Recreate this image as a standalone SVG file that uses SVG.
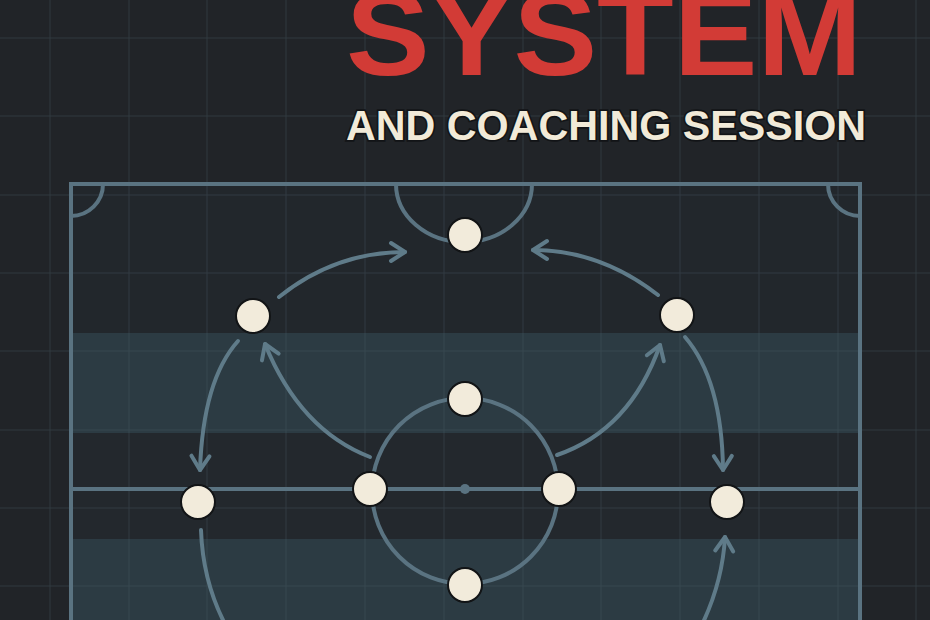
<svg xmlns="http://www.w3.org/2000/svg" width="930" height="620" viewBox="0 0 930 620">
  <defs>
    <style>
      .grid { stroke: #4a5c66; stroke-width: 1; opacity: 0.38; }
      .pitch { fill: none; stroke: #5a7381; stroke-width: 4; }
      .conn { fill: none; stroke: #5f7b89; stroke-width: 4; stroke-linecap: round; }
      .node { fill: #f2ebdb; stroke: #121416; stroke-width: 2; }
      .title { font-family: "Liberation Sans", Arial, sans-serif; font-weight: bold; fill: #d23b36; }
      .sub { font-family: "Liberation Sans", Arial, sans-serif; font-weight: bold; fill: #f1ead8; stroke: #121417; stroke-width: 3.5; paint-order: stroke; }
    </style>
    <marker id="arrow" markerUnits="userSpaceOnUse" viewBox="0 0 22 24" refX="18" refY="12" markerWidth="22" markerHeight="24" orient="auto">
      <path d="M4,3 L18,12 L4,21" fill="none" stroke="#5f7b89" stroke-width="4" stroke-linecap="round" stroke-linejoin="round"/>
    </marker>
  </defs>

  <!-- background -->
  <rect x="0" y="0" width="930" height="620" fill="#212428"/>

  <!-- pitch bands -->
  <g id="bands">
    <rect x="71" y="184" width="789" height="149" fill="#22272c"/>
    <rect x="71" y="333" width="789" height="100" fill="#2c3b43"/>
    <rect x="71" y="433" width="789" height="106" fill="#23282d"/>
    <rect x="71" y="539" width="789" height="81" fill="#2c3b43"/>
  </g>

  <!-- grid -->
  <g id="grid" class="grid">
    <line x1="50" y1="0" x2="50" y2="620"/>
    <line x1="129" y1="0" x2="129" y2="620"/>
    <line x1="207" y1="0" x2="207" y2="620"/>
    <line x1="286" y1="0" x2="286" y2="620"/>
    <line x1="365" y1="0" x2="365" y2="620"/>
    <line x1="444" y1="0" x2="444" y2="620"/>
    <line x1="523" y1="0" x2="523" y2="620"/>
    <line x1="601" y1="0" x2="601" y2="620"/>
    <line x1="680" y1="0" x2="680" y2="620"/>
    <line x1="759" y1="0" x2="759" y2="620"/>
    <line x1="838" y1="0" x2="838" y2="620"/>
    <line x1="916" y1="0" x2="916" y2="620"/>
    <line x1="0" y1="38" x2="930" y2="38"/>
    <line x1="0" y1="116" x2="930" y2="116"/>
    <line x1="0" y1="195" x2="930" y2="195"/>
    <line x1="0" y1="273" x2="930" y2="273"/>
    <line x1="0" y1="351" x2="930" y2="351"/>
    <line x1="0" y1="430" x2="930" y2="430"/>
    <line x1="0" y1="508" x2="930" y2="508"/>
    <line x1="0" y1="586" x2="930" y2="586"/>
  </g>

  <!-- title -->
  <g id="title">
    <text class="title" x="346" y="75" font-size="118" textLength="516" lengthAdjust="spacingAndGlyphs">SYSTEM</text>
    <text class="sub" x="346" y="140" font-size="42" textLength="520" lengthAdjust="spacingAndGlyphs">AND COACHING SESSION</text>
  </g>

  <!-- pitch markings -->
  <g id="pitch" class="pitch">
    <rect x="71" y="184" width="789" height="520"/>
    <path d="M103,184 A32,32 0 0 1 71,216"/>
    <path d="M828,184 A32,32 0 0 0 860,216"/>
    <path d="M396,184 A68,58 0 0 0 532,184"/>
    <line x1="71" y1="489" x2="860" y2="489"/>
    <circle cx="465" cy="491" r="93"/>
    <circle cx="465" cy="489" r="5" fill="#5a7381" stroke="none"/>
  </g>

  <!-- connectors -->
  <g id="connectors">
    <path class="conn" d="M279,297 Q335,252 405,252" marker-end="url(#arrow)"/>
    <path class="conn" d="M658,295 Q600,250 533,250" marker-end="url(#arrow)"/>
    <path class="conn" d="M238,341 Q203,380 200,470" marker-end="url(#arrow)"/>
    <path class="conn" d="M370,457 Q300,430 265,344" marker-end="url(#arrow)"/>
    <path class="conn" d="M557,455 Q630,430 660,345" marker-end="url(#arrow)"/>
    <path class="conn" d="M685,337 Q722,380 723,470" marker-end="url(#arrow)"/>
    <path class="conn" d="M201,530 Q203,590 234,640"/>
    <path class="conn" d="M694,640 Q722,590 725,537" marker-end="url(#arrow)"/>
  </g>

  <!-- nodes -->
  <g id="node-gk"><circle class="node" cx="465" cy="235" r="17"/></g>
  <g id="node-left-top"><circle class="node" cx="253" cy="316" r="17"/></g>
  <g id="node-right-top"><circle class="node" cx="677" cy="315" r="17"/></g>
  <g id="node-center-top"><circle class="node" cx="465" cy="399" r="17"/></g>
  <g id="node-left-mid"><circle class="node" cx="370" cy="489" r="17"/></g>
  <g id="node-right-mid"><circle class="node" cx="559" cy="489" r="17"/></g>
  <g id="node-far-left"><circle class="node" cx="198" cy="502" r="17"/></g>
  <g id="node-far-right"><circle class="node" cx="727" cy="502" r="17"/></g>
  <g id="node-center-bottom"><circle class="node" cx="465" cy="585" r="17"/></g>
</svg>
